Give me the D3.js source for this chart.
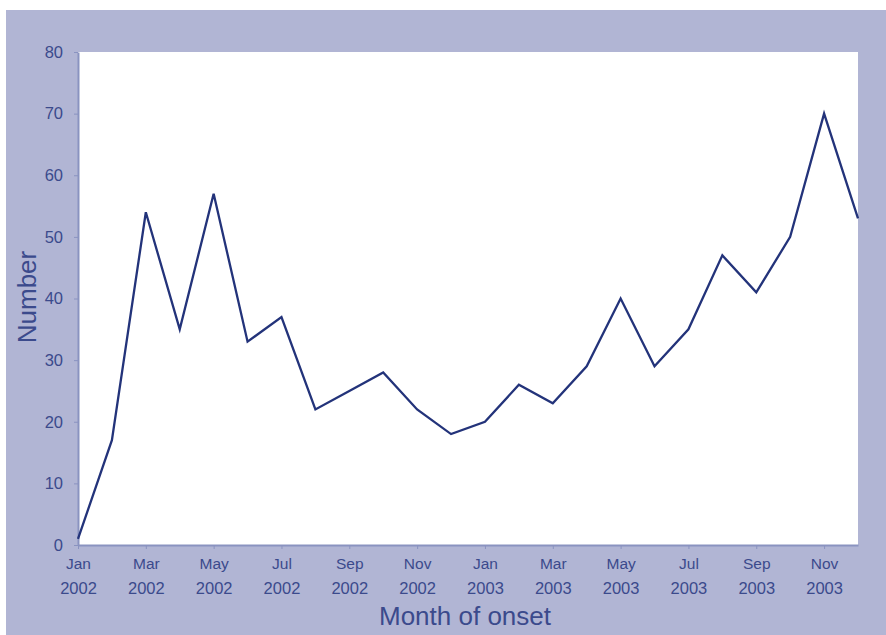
<!DOCTYPE html>
<html><head><meta charset="utf-8">
<script src="https://cdn.jsdelivr.net/npm/d3@7"></script>
<style>body{margin:0;background:#fff}svg{display:block}text{font-family:"Liberation Sans",Arial,sans-serif}</style>
</head><body><svg id="c" width="886" height="635"></svg>
<script>
const months = ["Jan 2002","Feb 2002","Mar 2002","Apr 2002","May 2002","Jun 2002","Jul 2002","Aug 2002","Sep 2002","Oct 2002","Nov 2002","Dec 2002",
"Jan 2003","Feb 2003","Mar 2003","Apr 2003","May 2003","Jun 2003","Jul 2003","Aug 2003","Sep 2003","Oct 2003","Nov 2003","Dec 2003"];
const counts = [1,17,54,35,57,33,37,22,25,28,22,18,20,26,23,29,40,29,35,47,41,50,70,53];
const yTicks = [0,10,20,30,40,50,60,70,80];
const xTickLabels = months.filter((d,i)=>i%2===0);

const svg = d3.select("#c");
const L=78,R=858,T=52,B=545;
svg.append("rect").attr("x",6).attr("y",10).attr("width",880).attr("height",625).attr("fill","#b1b5d4");
svg.append("rect").attr("x",L).attr("y",T).attr("width",R-L).attr("height",B-T).attr("fill","#ffffff");

const x = d3.scalePoint().domain(months).range([L,R]);
const y = d3.scaleLinear().domain([0,80]).range([B,T]);
const txt="#3b4a8c", axc="#8a93c0";

const ya = svg.append("g").attr("transform",`translate(${L},0)`)
  .call(d3.axisLeft(y).tickValues(yTicks).tickSize(4).tickSizeOuter(0).tickPadding(11));
ya.select(".domain").attr("stroke",axc).attr("stroke-width",2);
ya.selectAll(".tick line").attr("stroke",axc);
ya.selectAll("text").attr("fill",txt).attr("font-size",16.5);

const xa = svg.append("g").attr("transform",`translate(0,${B})`)
  .call(d3.axisBottom(x).tickValues(xTickLabels).tickSize(4).tickSizeOuter(0).tickFormat(""));
xa.select(".domain").attr("stroke",axc).attr("stroke-width",2);
xa.selectAll(".tick line").attr("stroke",axc);
xa.selectAll(".tick").each(function(d){
  const [m,yr]=d.split(" ");
  const g=d3.select(this);
  g.append("text").attr("y",24).attr("text-anchor","middle").attr("fill",txt).attr("font-size",15.5).text(m);
  g.append("text").attr("y",49).attr("text-anchor","middle").attr("fill",txt).attr("font-size",16.5).text(yr);
});

svg.append("path").datum(counts)
  .attr("d",d3.line().x((d,i)=>x(months[i])).y(d=>y(d)))
  .attr("fill","none").attr("stroke","#23337a").attr("stroke-width",2.3).attr("stroke-linejoin","miter");

svg.append("text").attr("transform","translate(36,297) rotate(-90)").attr("text-anchor","middle")
  .attr("fill",txt).attr("font-size",26).text("Number");
svg.append("text").attr("x",465).attr("y",625).attr("text-anchor","middle")
  .attr("fill",txt).attr("font-size",26).text("Month of onset");
</script></body></html>
